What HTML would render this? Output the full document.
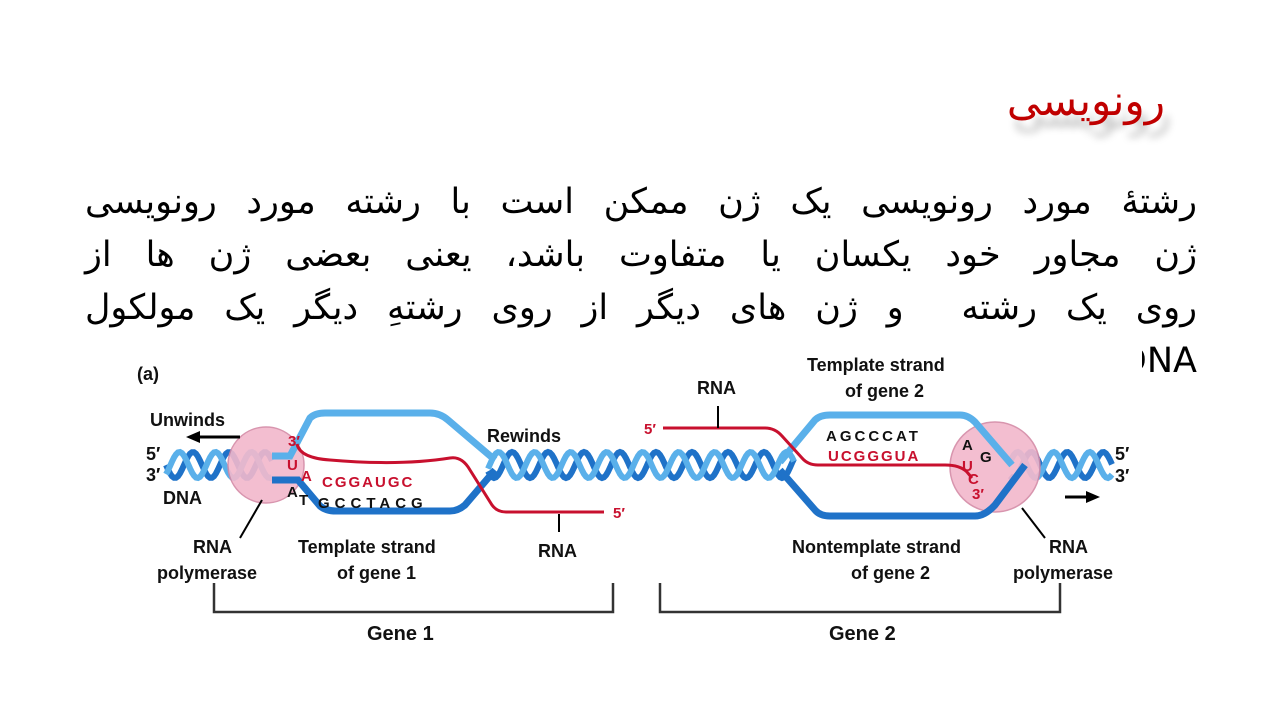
<!DOCTYPE html>
<html><head><meta charset="utf-8">
<style>
body{margin:0;width:1280px;height:720px;background:#fff;overflow:hidden;position:relative;font-family:"Liberation Sans","DejaVu Sans",sans-serif}
.title{position:absolute;right:115px;top:76px;font-size:42px;color:#c00000;direction:rtl;text-shadow:6px 12px 8px rgba(0,0,0,0.25);font-family:"DejaVu Sans",sans-serif}
.body{position:absolute;left:85px;width:1112px;top:176px;font-size:35px;line-height:53px;direction:rtl;color:#000;font-family:"DejaVu Sans",sans-serif}
.body div{text-align:justify;text-align-last:justify;white-space:nowrap}
.body div.last{text-align-last:right}
.fig{position:absolute;left:128px;top:345px;width:1014px;height:310px;background:#fff}
svg text{font-family:"Liberation Sans",sans-serif;font-weight:bold}
</style></head><body>
<div class="title">رونویسی</div>
<div class="body">
<div>رشتهٔ مورد رونویسی یک ژن ممکن است با رشته مورد رونویسی</div>
<div>ژن مجاور خود یکسان یا متفاوت باشد، یعنی بعضی ژن ها از</div>
<div>روی یک رشته&nbsp; و ژن های دیگر از روی رشتهِ دیگر یک مولکول</div>
<div class="last">DNA رونویسی می شوند.</div>
</div>
<div class="fig"></div>
<svg width="1280" height="720" style="position:absolute;left:0;top:0">
<g id="hel" fill="none" stroke-width="6"></g>
<circle cx="266" cy="465" r="38" fill="#f2b8cc" stroke="#d48aa6" stroke-width="1.5" opacity="0.9"/>
<circle cx="995" cy="467" r="45" fill="#f2b8cc" stroke="#d48aa6" stroke-width="1.5" opacity="0.9"/>
<path d="M272 456 H290 L310 418 Q315 413 325 413 H430 Q440 413 448 420 L495 460" stroke="#5ab0ea" stroke-width="7" fill="none"/>
<path d="M272 480 H298 L320 506 Q326 511 336 511 H450 Q458 511 465 505 L495 470" stroke="#1f72c8" stroke-width="7" fill="none"/>
<path d="M297 444 Q300 458 330 460 Q400 466 450 458 Q462 456 470 470 L492 505 Q497 512 506 512 H604" stroke="#c8102e" stroke-width="3" fill="none"/>
<path d="M780 462 L815 420 Q820 415 830 415 H960 Q968 415 975 422 L1012 465" stroke="#5ab0ea" stroke-width="7" fill="none"/>
<path d="M780 470 L815 510 Q820 516 830 516 H975 Q985 516 995 505 L1025 465" stroke="#1f72c8" stroke-width="7" fill="none"/>
<path d="M663 428 H765 Q775 428 782 436 L802 458 Q808 465 818 465 H945 Q960 465 967 472 L972 478" stroke="#c8102e" stroke-width="3" fill="none"/>
<path d="M240 437 H196" stroke="#000" stroke-width="3"/><path d="M186 437 L200 431 V443 Z" fill="#000"/>
<path d="M1065 497 H1090" stroke="#000" stroke-width="3"/><path d="M1100 497 L1086 491 V503 Z" fill="#000"/>
<path d="M262 500 L240 538" stroke="#000" stroke-width="2"/>
<path d="M559 514 V532" stroke="#000" stroke-width="2"/>
<path d="M718 406 V428" stroke="#000" stroke-width="2"/>
<path d="M1022 508 L1045 538" stroke="#000" stroke-width="2"/>
<path d="M214 583 V612 H613 V583 M660 583 V612 H1060 V583" stroke="#333" stroke-width="2.5" fill="none"/>
<g font-size="18" fill="#111">
<text x="137" y="380">(a)</text>
<text x="150" y="426">Unwinds</text>
<text x="146" y="460">5′</text><text x="146" y="481">3′</text>
<text x="163" y="504">DNA</text>
<text x="487" y="442">Rewinds</text>
<text x="193" y="553">RNA</text><text x="157" y="579">polymerase</text>
<text x="298" y="553">Template strand</text><text x="337" y="579">of gene 1</text>
<text x="538" y="557">RNA</text>
<text x="697" y="394">RNA</text>
<text x="807" y="371">Template strand</text><text x="845" y="397">of gene 2</text>
<text x="792" y="553">Nontemplate strand</text><text x="851" y="579">of gene 2</text>
<text x="1049" y="553">RNA</text><text x="1013" y="579">polymerase</text>
<text x="1115" y="460">5′</text><text x="1115" y="482">3′</text>
<text x="367" y="640" font-size="20">Gene 1</text>
<text x="829" y="640" font-size="20">Gene 2</text>
</g>
<g font-size="15" fill="#c8102e">
<text x="288" y="446">3′</text>
<text x="613" y="518">5′</text><text x="644" y="434">5′</text>
<text x="322" y="487" letter-spacing="2">CGGAUGC</text>
<text x="828" y="461" letter-spacing="2">UCGGGUA</text>
<text x="287" y="470">U</text><text x="301" y="481">A</text>
<text x="962" y="471">U</text><text x="968" y="484">C</text><text x="972" y="499">3′</text>
</g>
<g font-size="15" fill="#111">
<text x="318" y="508" letter-spacing="5">GCCTACG</text>
<text x="826" y="441" letter-spacing="3">AGCCCAT</text>
<text x="287" y="497">A</text><text x="299" y="505">T</text>
<text x="962" y="450">A</text><text x="980" y="462">G</text>
</g>
</svg>
<script>
var g=document.getElementById('hel'),ns='http://www.w3.org/2000/svg';
function helix(x0,x1,per,ph){
 var cols=['#1f72c8','#5ab0ea'];
 for(var k=0;k<2;k++){var d='';for(var x=x0;x<=x1;x+=2){var y=465+13*Math.sin((x-x0)/per*2*Math.PI+ph+k*Math.PI*0.75);d+=(x==x0?'M':'L')+x+' '+y.toFixed(1);}
 var p=document.createElementNS(ns,'path');p.setAttribute('d',d);p.setAttribute('stroke',cols[k]);g.appendChild(p);}
}
helix(166,272,36,0);helix(488,795,36,0.5);helix(1010,1112,36,1);
</script>
</body></html>
